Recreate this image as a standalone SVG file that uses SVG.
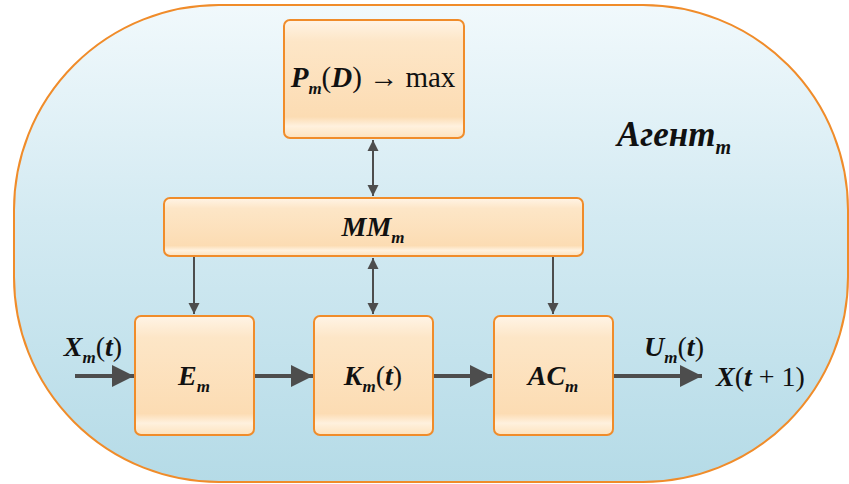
<svg xmlns="http://www.w3.org/2000/svg" width="849" height="484" viewBox="0 0 849 484" font-family="Times New Roman">
<defs>
<linearGradient id="bg" x1="0" y1="0" x2="0" y2="1">
<stop offset="0" stop-color="#f1f9fc"/>
<stop offset="0.45" stop-color="#d3eaf2"/>
<stop offset="1" stop-color="#b5dbe7"/>
</linearGradient>
<linearGradient id="box" x1="0" y1="0" x2="0" y2="1">
<stop offset="0" stop-color="#fff4e6"/>
<stop offset="0.18" stop-color="#fde6c7"/>
<stop offset="0.82" stop-color="#fcdcb3"/>
<stop offset="0.9" stop-color="#fff1de"/>
<stop offset="1" stop-color="#fde2bd"/>
</linearGradient>
<marker id="big" markerUnits="userSpaceOnUse" markerWidth="24" markerHeight="22" refX="22" refY="11" orient="auto">
<path d="M0,0 L22,11 L0,22 Z" fill="#4d4d4d"/>
</marker>
<marker id="sm" markerUnits="userSpaceOnUse" markerWidth="12" markerHeight="12" refX="11" refY="6" orient="auto-start-reverse">
<path d="M0,0.5 L11,6 L0,11.5 Z" fill="#4d4d4d"/>
</marker>
<rect id="sq" width="119" height="119" rx="6"/>
</defs>

<g id="agent">
<rect x="14" y="5" width="834" height="477" rx="205" ry="205" fill="url(#bg)" stroke="#f08c2a" stroke-width="2"/>
<text font-family="Times New Roman" font-weight="bold" font-style="italic" fill="#111" x="617" y="146" font-size="35">Агент<tspan dy="8" font-size="20">m</tspan></text>
</g>

<g id="connectors" stroke="#4d4d4d" fill="none">
<g stroke-width="2">
<line x1="373" y1="140" x2="373" y2="196" marker-start="url(#sm)" marker-end="url(#sm)"/>
<line x1="373" y1="258" x2="373" y2="314" marker-start="url(#sm)" marker-end="url(#sm)"/>
<line x1="194" y1="257" x2="194" y2="314" marker-end="url(#sm)"/>
<line x1="553" y1="257" x2="553" y2="314" marker-end="url(#sm)"/>
</g>
<g stroke-width="4">
<line x1="75" y1="376" x2="134" y2="376" marker-end="url(#big)"/>
<line x1="254" y1="376" x2="313" y2="376" marker-end="url(#big)"/>
<line x1="434" y1="376" x2="492" y2="376" marker-end="url(#big)"/>
<line x1="614" y1="376" x2="702" y2="376" marker-end="url(#big)"/>
</g>
</g>

<g id="P">
<rect x="284" y="20" width="180" height="118" rx="6" fill="url(#box)" stroke="#f08c2a" stroke-width="2"/>
<text font-family="Times New Roman" fill="#111" x="373" y="87" font-size="29" text-anchor="middle"><tspan font-weight="bold" font-style="italic">P</tspan><tspan font-weight="bold" font-style="italic" font-size="17" dy="7">m</tspan><tspan dy="-7">(</tspan><tspan font-weight="bold" font-style="italic">D</tspan><tspan>) → max</tspan></text>
</g>

<g id="MM">
<rect x="164" y="198" width="419" height="58" rx="6" fill="url(#box)" stroke="#f08c2a" stroke-width="2"/>
<text font-family="Times New Roman" fill="#111" font-weight="bold" font-style="italic" x="373" y="236" font-size="28" text-anchor="middle">MM<tspan font-size="17" dy="7">m</tspan></text>
</g>

<g id="E">
<use href="#sq" x="135" y="316" fill="url(#box)" stroke="#f08c2a" stroke-width="2"/>
<text font-family="Times New Roman" fill="#111" font-weight="bold" font-style="italic" x="194" y="385" font-size="28" text-anchor="middle">E<tspan font-size="17" dy="7">m</tspan></text>
</g>

<g id="K">
<use href="#sq" x="314" y="316" fill="url(#box)" stroke="#f08c2a" stroke-width="2"/>
<text font-family="Times New Roman" fill="#111" x="373" y="385" font-size="28" text-anchor="middle"><tspan font-weight="bold" font-style="italic">K</tspan><tspan font-weight="bold" font-style="italic" font-size="17" dy="7">m</tspan><tspan dy="-7">(</tspan><tspan font-weight="bold" font-style="italic">t</tspan><tspan>)</tspan></text>
</g>

<g id="AC">
<use href="#sq" x="494" y="316" fill="url(#box)" stroke="#f08c2a" stroke-width="2"/>
<text font-family="Times New Roman" fill="#111" font-weight="bold" font-style="italic" x="553" y="385" font-size="28" text-anchor="middle">AC<tspan font-size="17" dy="7">m</tspan></text>
</g>

<g id="labels">
<text font-family="Times New Roman" fill="#111" x="93" y="356" font-size="28" text-anchor="middle"><tspan font-weight="bold" font-style="italic">X</tspan><tspan font-weight="bold" font-style="italic" font-size="17" dy="7">m</tspan><tspan dy="-7">(</tspan><tspan font-weight="bold" font-style="italic">t</tspan><tspan>)</tspan></text>
<text font-family="Times New Roman" fill="#111" x="674" y="356" font-size="28" text-anchor="middle"><tspan font-weight="bold" font-style="italic">U</tspan><tspan font-weight="bold" font-style="italic" font-size="17" dy="7">m</tspan><tspan dy="-7">(</tspan><tspan font-weight="bold" font-style="italic">t</tspan><tspan>)</tspan></text>
<text font-family="Times New Roman" fill="#111" x="716" y="386" font-size="28"><tspan font-weight="bold" font-style="italic">X</tspan><tspan>(</tspan><tspan font-weight="bold" font-style="italic">t</tspan><tspan> + 1)</tspan></text>
</g>
</svg>
